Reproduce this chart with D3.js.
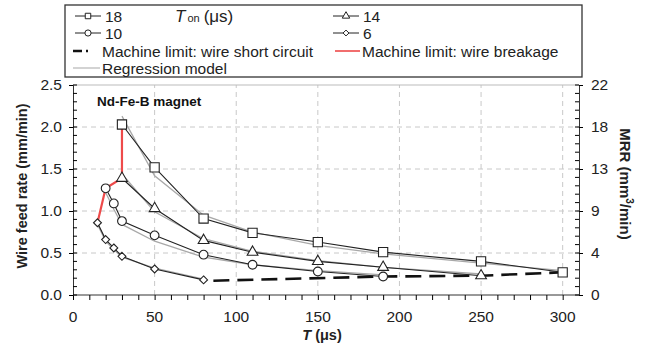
<!DOCTYPE html>
<html>
<head>
<meta charset="utf-8">
<script src="https://cdn.jsdelivr.net/npm/d3@7"></script>
<style>
  body { margin: 0; background: #fff; }
  svg { font-family: "Liberation Sans", Arial, sans-serif; }
</style>
</head>
<body>
<div id="chart"></div>
<script>
// pulse-off time T (us) and wire feed rate (mm/min) for each T_on
var t18 = [30, 50, 80, 110, 150, 190, 250, 300];
var wfr18 = [2.03, 1.52, 0.91, 0.74, 0.63, 0.51, 0.40, 0.27];
var reg18 = [2.13, 1.42, 0.95, 0.75, 0.59, 0.49, 0.38, 0.29];

var t14 = [30, 50, 80, 110, 150, 190, 250];
var wfr14 = [1.39, 1.03, 0.65, 0.51, 0.40, 0.33, 0.23];
var reg14 = [1.44, 0.99, 0.67, 0.52, 0.41, 0.33, 0.25];

var t10 = [20, 25, 30, 50, 80, 110, 150, 190];
var wfr10 = [1.27, 1.09, 0.88, 0.71, 0.48, 0.36, 0.28, 0.22];
var reg10 = [1.22, 1.02, 0.84, 0.64, 0.45, 0.36, 0.29, 0.24];

var t6 = [15, 20, 25, 30, 50, 80];
var wfr6 = [0.86, 0.66, 0.56, 0.46, 0.31, 0.18];
var reg6 = [0.84, 0.64, 0.54, 0.45, 0.32, 0.19];

// machine limits
var breakT = [15, 20, 30, 30];
var breakW = [0.86, 1.27, 1.39, 2.03];
var shortT = [86, 190, 250, 300];
var shortW = [0.17, 0.22, 0.23, 0.27];

// axis ticks
var xTicks = [0, 50, 100, 150, 200, 250, 300];
var yTicks = [0, 0.5, 1.0, 1.5, 2.0, 2.5];
var mrrLabels = ["0", "4", "9", "13", "18", "22"];

var svgWidth = 648, svgHeight = 348;
var svg = d3.select("#chart").append("svg")
  .attr("width", svgWidth).attr("height", svgHeight);

var x = d3.scaleLinear().domain([0, 310]).range([73, 579]);
var y = d3.scaleLinear().domain([0, 2.5]).range([295, 85]);

// grid
var grid = svg.append("g").attr("stroke", "#c8c8c8").attr("stroke-dasharray", "5,4");
grid.selectAll(".gx").data(xTicks.slice(1)).enter().append("line")
  .attr("x1", d => x(d)).attr("x2", d => x(d)).attr("y1", y(0)).attr("y2", y(2.5));
grid.selectAll(".gy").data(yTicks.slice(1, 5)).enter().append("line")
  .attr("x1", x(0)).attr("x2", x(310)).attr("y1", d => y(d)).attr("y2", d => y(d));
svg.append("line").attr("x1", x(0)).attr("x2", x(310)).attr("y1", y(2.5)).attr("y2", y(2.5))
  .attr("stroke", "#bbb").attr("stroke-width", 1.2);

// axes
var bottomAxis = d3.axisBottom(x).tickValues(d3.range(0, 310, 10)).tickSize(5).tickFormat("");
var gx = svg.append("g").attr("transform", `translate(0,${y(0)})`).call(bottomAxis);
gx.selectAll("text").remove();
svg.selectAll(".xlab").data(xTicks).enter().append("text")
  .attr("x", d => x(d)).attr("y", 322).attr("text-anchor", "middle")
  .attr("font-size", 15.5).attr("fill", "#222").text(d => d);

var leftAxis = d3.axisLeft(y).tickValues(yTicks).tickSize(4).tickFormat(d3.format(".1f")).tickPadding(7);
var gl = svg.append("g").attr("transform", `translate(${x(0)},0)`).call(leftAxis);
gl.selectAll("text").attr("font-size", 15.5).attr("fill", "#222").attr("font-family", null);
gl.append("g").selectAll("line").data(d3.range(0, 26).map(d => d / 10)).enter().append("line")
  .attr("x1", 0).attr("x2", 4).attr("y1", d => y(d)).attr("y2", d => y(d)).attr("stroke", "#000");

var rightAxis = d3.axisRight(y).tickValues(yTicks).tickSize(4).tickPadding(8)
  .tickFormat((d, i) => mrrLabels[i]);
var gr = svg.append("g").attr("transform", `translate(${x(310)},0)`).call(rightAxis);
gr.selectAll("text").attr("font-size", 15.5).attr("fill", "#222").attr("font-family", null);
gr.append("g").selectAll("line").data(d3.range(0, 26).map(d => d / 10)).enter().append("line")
  .attr("x1", 0).attr("x2", -4).attr("y1", d => y(d)).attr("y2", d => y(d)).attr("stroke", "#000");
[gx, gl, gr].forEach(g => g.select(".domain").attr("stroke", "#333"));
gx.select(".domain").attr("d", `M${x(0)},0H${x(310)}`);

// titles
svg.append("text").attr("transform", "translate(27,186) rotate(-90)")
  .attr("text-anchor", "middle").attr("font-size", 14.5).attr("font-weight", "bold")
  .attr("fill", "#222").text("Wire feed rate (mm/min)");
var rt = svg.append("text").attr("transform", "translate(620,184) rotate(90)")
  .attr("text-anchor", "middle").attr("font-size", 15).attr("font-weight", "bold").attr("fill", "#222");
rt.append("tspan").text("MRR (mm");
rt.append("tspan").attr("font-size", 10).attr("dy", -6).text("3");
rt.append("tspan").attr("dy", 6).text("/min)");
var xt = svg.append("text").attr("x", 322).attr("y", 340).attr("text-anchor", "middle")
  .attr("font-size", 14.5).attr("font-weight", "bold").attr("fill", "#222");
xt.append("tspan").attr("font-style", "italic").text("T");
xt.append("tspan").text(" (μs)");
svg.append("text").attr("x", 97).attr("y", 106).attr("font-size", 13.5).attr("font-weight", "bold")
  .attr("fill", "#111").text("Nd-Fe-B magnet");

var line = d3.line().x(d => x(d[0])).y(d => y(d[1]));
function pts(t, v) { return t.map((d, i) => [d, v[i]]); }

// regression model
[[t18, reg18], [t14, reg14], [t10, reg10], [t6, reg6]].forEach(function(s) {
  svg.append("path").attr("d", line(pts(s[0], s[1]))).attr("fill", "none")
    .attr("stroke", "#a8a8a8").attr("stroke-width", 1.3);
});

// machine limits
svg.append("path").attr("d", line(pts(breakT, breakW))).attr("fill", "none")
  .attr("stroke", "#ee4a4a").attr("stroke-width", 2.2);
svg.append("path").attr("d", line(pts(shortT, shortW))).attr("fill", "none")
  .attr("stroke", "#111").attr("stroke-width", 2.6).attr("stroke-dasharray", "16,8");

// measured series
var series = [
  {t: t18, v: wfr18, sym: d3.symbolSquare, size: 85},
  {t: t14, v: wfr14, sym: d3.symbolTriangle, size: 50},
  {t: t10, v: wfr10, sym: d3.symbolCircle, size: 60},
  {t: t6, v: wfr6, sym: d3.symbolDiamond2, size: 40}
];
series.forEach(function(s) {
  var p = pts(s.t, s.v);
  svg.append("path").attr("d", line(p)).attr("fill", "none").attr("stroke", "#222").attr("stroke-width", 1.1);
  svg.append("g").selectAll("path").data(p).enter().append("path")
    .attr("transform", d => `translate(${x(d[0])},${y(d[1])})`)
    .attr("d", d3.symbol().type(s.sym).size(s.size))
    .attr("fill", "#fff").attr("stroke", "#222").attr("stroke-width", 1.1);
});

// legend
var lg = svg.append("g").attr("font-size", 15.5).attr("fill", "#222");
lg.append("rect").attr("x", 65).attr("y", 5).attr("width", 517).attr("height", 72)
  .attr("fill", "#fff").attr("stroke", "#333").attr("stroke-width", 1.3);
function legSym(x0, yy, sym, size, label) {
  lg.append("line").attr("x1", x0).attr("x2", x0 + 26).attr("y1", yy).attr("y2", yy).attr("stroke", "#222");
  lg.append("path").attr("transform", `translate(${x0 + 13},${yy})`)
    .attr("d", d3.symbol().type(sym).size(size)).attr("fill", "#fff").attr("stroke", "#222");
  lg.append("text").attr("x", x0 + 30).attr("y", yy + 6).text(label);
}
legSym(75, 16, d3.symbolSquare, 30, "18");
legSym(75, 33, d3.symbolCircle, 30, "10");
legSym(333, 16, d3.symbolTriangle, 24, "14");
legSym(333, 33, d3.symbolDiamond2, 22, "6");
var ton = lg.append("text").attr("x", 175).attr("y", 22);
ton.append("tspan").attr("font-style", "italic").attr("font-size", 17).text("T");
ton.append("tspan").attr("font-size", 11).attr("dx", 2).text("on");
ton.append("tspan").attr("font-size", 17).attr("dx", 4).text("(μs)");
lg.append("line").attr("x1", 73).attr("x2", 88).attr("y1", 51).attr("y2", 51)
  .attr("stroke", "#111").attr("stroke-width", 2.6).attr("stroke-dasharray", "9,4");
lg.append("text").attr("x", 102).attr("y", 57).text("Machine limit: wire short circuit");
lg.append("line").attr("x1", 335).attr("x2", 360).attr("y1", 51).attr("y2", 51)
  .attr("stroke", "#ee4a4a").attr("stroke-width", 1.6);
lg.append("text").attr("x", 362).attr("y", 57).text("Machine limit: wire breakage");
lg.append("line").attr("x1", 73).attr("x2", 100).attr("y1", 68).attr("y2", 68)
  .attr("stroke", "#bbb").attr("stroke-width", 1.3);
lg.append("text").attr("x", 102).attr("y", 74).text("Regression model");
</script>
</body>
</html>
